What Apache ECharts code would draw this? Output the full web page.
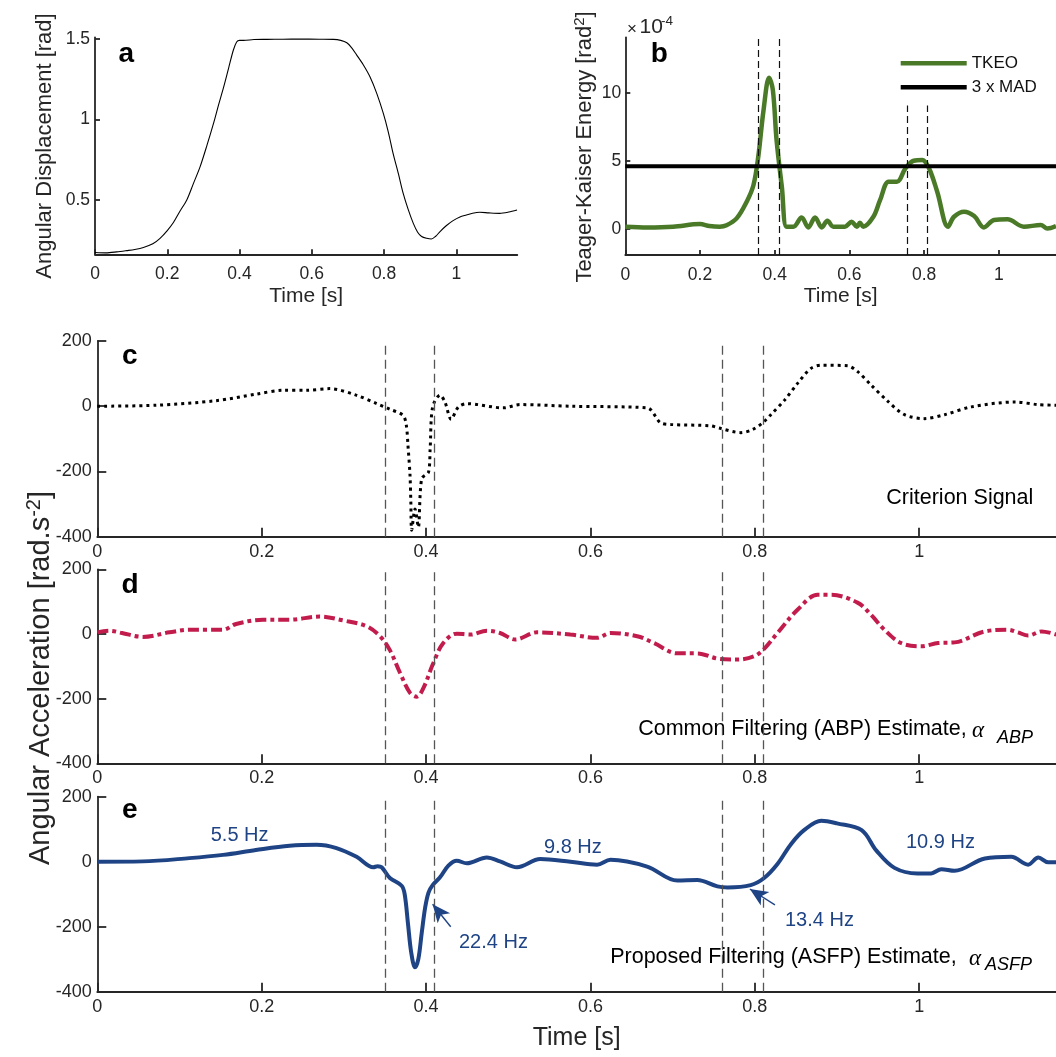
<!DOCTYPE html>
<html><head><meta charset="utf-8">
<script src="https://cdn.jsdelivr.net/npm/echarts/dist/echarts.min.js"></script>
<style>html,body{margin:0;padding:0;background:#fff;}#chart{width:1056px;height:1057px;}</style>
</head><body><div id="chart"></div>
<script>
// ---------- data (time [s], value) ----------
const displacement = [[0,0.174],[0.03,0.172],[0.06,0.178],[0.088,0.186],[0.11,0.193],[0.134,0.205],[0.16,0.228],[0.18,0.262],[0.2,0.31],[0.217,0.36],[0.235,0.43],[0.254,0.5],[0.272,0.6],[0.291,0.707],[0.31,0.84],[0.328,0.975],[0.342,1.09],[0.356,1.2],[0.37,1.32],[0.383,1.43],[0.392,1.48],[0.4,1.49],[0.411,1.49],[0.44,1.495],[0.475,1.496],[0.52,1.497],[0.567,1.498],[0.62,1.497],[0.66,1.496],[0.68,1.49],[0.697,1.475],[0.71,1.445],[0.724,1.40],[0.742,1.34],[0.761,1.264],[0.78,1.16],[0.798,1.037],[0.812,0.92],[0.825,0.789],[0.84,0.66],[0.853,0.541],[0.867,0.44],[0.881,0.355],[0.893,0.30],[0.904,0.273],[0.918,0.262],[0.931,0.258],[0.943,0.275],[0.955,0.304],[0.972,0.34],[0.991,0.372],[1.01,0.395],[1.028,0.407],[1.045,0.418],[1.065,0.424],[1.09,0.42],[1.12,0.417],[1.145,0.425],[1.168,0.438]];
// Teager-Kaiser energy in units of 1e-4 rad^2
const tkeo = [[0,0.15],[0.06,0.1],[0.128,0.15],[0.2,0.34],[0.225,0.2],[0.253,0.15],[0.271,0.25],[0.298,0.76],[0.325,1.99],[0.343,3.2],[0.356,5.3],[0.37,8.7],[0.385,11.1],[0.395,10.2],[0.405,6.5],[0.419,3.1],[0.432,0.15],[0.45,0.15],[0.472,0.83],[0.49,0.1],[0.508,0.83],[0.526,0.1],[0.541,0.59],[0.557,0.15],[0.588,0.15],[0.606,0.51],[0.62,0.15],[0.628,0.44],[0.637,0.15],[0.664,0.88],[0.682,2.1],[0.705,3.46],[0.727,3.46],[0.75,4.44],[0.772,5.0],[0.795,5.05],[0.813,4.44],[0.835,2.72],[0.864,0.15],[0.88,0.88],[0.907,1.25],[0.934,0.93],[0.96,0.1],[0.987,0.64],[1.023,0.69],[1.067,0.15],[1.112,0.27],[1.13,0.02],[1.153,0.2]];
const madThreshold = 4.6;
const criterion = [[0,0],[0.0716,3],[0.1447,17],[0.193,37],[0.226,49],[0.2545,49],[0.283,54],[0.315,34],[0.34,8],[0.356,-9],[0.372,-28],[0.376,-58],[0.378,-120],[0.3805,-212],[0.3815,-294],[0.3825,-380],[0.3866,-315],[0.3906,-371],[0.3947,-222],[0.403,-202],[0.405,-130],[0.408,-2],[0.417,34],[0.423,13],[0.4305,-40],[0.4394,-2],[0.4496,8],[0.494,-5],[0.5146,5],[0.5756,0],[0.669,-5],[0.685,-50],[0.698,-56],[0.746,-60],[0.7566,-67],[0.783,-81],[0.797,-72],[0.81,-50],[0.8195,-26],[0.836,18],[0.852,70],[0.8683,116],[0.881,126],[0.913,124],[0.9252,106],[0.9415,65],[0.962,15],[0.9821,-26],[1.0065,-38],[1.031,-26],[1.0634,-2],[1.1163,13],[1.1447,5],[1.167,3]];
const abpEstimate = [[0,5],[0.0146,10],[0.03,3],[0.0553,-9],[0.0878,5],[0.112,13],[0.1325,13],[0.153,13],[0.169,31],[0.2016,44],[0.234,44],[0.2707,54],[0.299,42],[0.3276,24],[0.344,-7],[0.356,-50],[0.3683,-120],[0.3805,-182],[0.3886,-194],[0.397,-166],[0.409,-89],[0.421,-28],[0.4374,1],[0.4537,-2],[0.474,10],[0.49,3],[0.5085,-17],[0.535,5],[0.5756,-2],[0.608,-12],[0.6244,3],[0.657,-7],[0.6772,-28],[0.7057,-60],[0.73,-60],[0.7566,-77],[0.779,-79],[0.7992,-69],[0.8114,-46],[0.8276,3],[0.852,75],[0.8764,121],[0.8927,121],[0.925,97],[0.9415,59],[0.9577,13],[0.978,-28],[1.0024,-38],[1.023,-28],[1.0431,-26],[1.08,8],[1.108,13],[1.12,5],[1.1326,-5],[1.149,8],[1.167,-2]];
const asfpEstimate = [[0,0],[0.0553,1],[0.112,11],[0.153,21],[0.193,36],[0.234,49],[0.2667,52],[0.291,42],[0.3155,15],[0.3358,-17],[0.341,-14],[0.346,-17],[0.356,-50],[0.3703,-74],[0.374,-100],[0.378,-190],[0.382,-280],[0.3866,-325],[0.3906,-300],[0.3947,-220],[0.399,-140],[0.403,-95],[0.408,-72],[0.417,-48],[0.4272,-12],[0.4374,3],[0.4496,-5],[0.474,13],[0.49,1],[0.5106,-17],[0.539,8],[0.5756,0],[0.608,-9],[0.6244,6],[0.669,-15],[0.7057,-58],[0.73,-56],[0.7545,-76],[0.767,-79],[0.795,-72],[0.8114,-50],[0.8276,-7],[0.844,54],[0.86,97],[0.881,126],[0.9,118],[0.93,97],[0.948,34],[0.9699,-19],[0.998,-36],[1.0146,-36],[1.027,-23],[1.043,-28],[1.08,10],[1.112,15],[1.1326,-9],[1.145,13],[1.157,-2],[1.167,-2]];
const onsetsB = [0.355, 0.411, 0.756, 0.809];
const onsets = [0.355, 0.41, 0.755, 0.808];
const xTicks = [0, 0.2, 0.4, 0.6, 0.8, 1];
const dispTicks = [0.5, 1, 1.5];
const tkeoTicks = [0, 5, 10];
// arrows in panel e: [tail, tip]
const arrow224 = [[0.430, -200], [0.408, -131]];
const arrow134 = [[0.8245, -133], [0.794, -84]];

// ---------- styles ----------
const FONT = 'Liberation Sans, Arial, sans-serif';
const INK = '#262626';
const GREEN = '#4A7A28', CRIMSON = '#C21C4D', NAVY = '#1F4485';
const X_MAX_A = 1.1688, X_MAX_B = 1.153, X_MAX_C = 1.1665;

function xAxis(gi, max, tickLen, fs, margin, name, nameGap, nameSize) {
  return {
    type: 'value', gridIndex: gi, min: 0, max: max,
    axisLine: { onZero: false, lineStyle: { color: INK, width: 1.8 } },
    axisTick: { inside: true, length: tickLen, customValues: xTicks, lineStyle: { color: INK, width: 1.8 } },
    axisLabel: { customValues: xTicks, color: INK, fontSize: fs, fontFamily: FONT, margin: margin },
    splitLine: { show: false },
    name: name || '', nameLocation: 'middle', nameGap: nameGap || 0,
    nameTextStyle: { color: INK, fontSize: nameSize || 20, fontFamily: FONT }
  };
}
function yAxis(gi, min, max, ticks, tickLen, fs, margin) {
  const ax = {
    type: 'value', gridIndex: gi, min: min, max: max,
    axisLine: { show: true, onZero: false, lineStyle: { color: INK, width: 1.8 } },
    axisTick: { show: true, inside: true, length: tickLen, lineStyle: { color: INK, width: 1.8 } },
    axisLabel: { color: INK, fontSize: fs, fontFamily: FONT, margin: margin },
    splitLine: { show: false }
  };
  if (ticks) { ax.axisTick.customValues = ticks; ax.axisLabel.customValues = ticks; }
  else { ax.interval = 200; }
  return ax;
}
const vDash = { color: '#555', width: 1.3, type: [9, 5] };
const onsetMark = (extra) => ({
  silent: true, symbol: ['none', 'none'], label: { show: false }, animation: false,
  lineStyle: vDash, emphasis: { disabled: true },
  data: onsets.map(x => ({ xAxis: x })).concat(extra || [])
});
const arrowItem = (a) => [
  { coord: a[0], symbol: 'none', lineStyle: { color: NAVY, width: 1.4, type: 'solid' } },
  { coord: a[1], symbol: 'arrow', symbolSize: [12, 18], itemStyle: { color: NAVY } }
];

const T = (text, x, y, opt) => ({ type: 'text', x: x, y: y, silent: true, rotation: (opt && opt.rotation) || 0,
  style: Object.assign({ text: text, fill: '#000', fontSize: 20, fontFamily: FONT, align: 'left', verticalAlign: 'middle' }, opt && opt.style) });

const chart = echarts.init(document.getElementById('chart'));
chart.setOption({
  animation: false,
  backgroundColor: '#fff',
  grid: [
    { left: 95, top: 37.3, width: 422.3, height: 217 },
    { left: 625.3, top: 37.3, width: 430.7, height: 217.7 },
    { left: 97.3, top: 341, width: 958.7, height: 195.7 },
    { left: 97.3, top: 569.3, width: 958.7, height: 194 },
    { left: 97.3, top: 796.7, width: 958.7, height: 195 }
  ],
  xAxis: [
    xAxis(0, X_MAX_A, 5, 17.5, 11, 'Time [s]', 31, 21),
    xAxis(1, X_MAX_B, 5, 17.5, 11, 'Time [s]', 31, 21),
    xAxis(2, X_MAX_C, 9, 18, 6),
    xAxis(3, X_MAX_C, 9, 18, 6),
    xAxis(4, X_MAX_C, 9, 18, 6, 'Time [s]', 34, 25)
  ],
  yAxis: [
    yAxis(0, 0.163, 1.509, dispTicks, 5, 17.5, 5),
    yAxis(1, -1.93, 14.07, tkeoTicks, 5, 17.5, 4),
    yAxis(2, -400, 200, null, 9, 18, 5.6),
    yAxis(3, -400, 200, null, 9, 18, 5.6),
    yAxis(4, -400, 200, null, 9, 18, 5.6)
  ],
  legend: {
    data: [{ name: 'TKEO', icon: 'rect' }, { name: '3 x MAD', icon: 'rect' }],
    orient: 'vertical', left: 900.7, top: 53.3, padding: 0,
    itemWidth: 66, itemHeight: 4.5, itemGap: 4, selectedMode: false,
    textStyle: { color: '#111', fontSize: 17, lineHeight: 20, fontFamily: FONT }
  },
  series: [
    { type: 'line', xAxisIndex: 0, yAxisIndex: 0, data: displacement, symbol: 'none', smooth: 0.3,
      lineStyle: { color: '#000', width: 1.1 }, silent: true },
    { type: 'line', name: 'TKEO', xAxisIndex: 1, yAxisIndex: 1, data: tkeo, symbol: 'none', smooth: 0.35,
      lineStyle: { color: GREEN, width: 4.5 }, itemStyle: { color: GREEN }, silent: true,
      markLine: { silent: true, symbol: ['none', 'none'], label: { show: false },
        lineStyle: { color: '#111', width: 1.2, type: [7, 4] },
        data: [
          [{ coord: [onsetsB[0], -1.93] }, { coord: [onsetsB[0], 14.07] }],
          [{ coord: [onsetsB[1], -1.93] }, { coord: [onsetsB[1], 14.07] }],
          [{ coord: [onsetsB[2], -1.93] }, { coord: [onsetsB[2], 9.05] }],
          [{ coord: [onsetsB[3], -1.93] }, { coord: [onsetsB[3], 9.05] }]
        ] } },
    { type: 'line', name: '3 x MAD', xAxisIndex: 1, yAxisIndex: 1, data: [[0, madThreshold], [X_MAX_B, madThreshold]],
      symbol: 'none', lineStyle: { color: '#000', width: 4 }, itemStyle: { color: '#000' }, silent: true, z: 3 },
    { type: 'line', xAxisIndex: 2, yAxisIndex: 2, data: criterion, symbol: 'none', smooth: 0.3,
      lineStyle: { color: '#000', width: 3, type: [3, 4], cap: 'butt' }, silent: true, markLine: onsetMark() },
    { type: 'line', xAxisIndex: 3, yAxisIndex: 3, data: abpEstimate, symbol: 'none', smooth: 0.35,
      lineStyle: { color: CRIMSON, width: 4, type: [11, 4, 4, 4], cap: 'butt' }, silent: true, markLine: onsetMark() },
    { type: 'line', xAxisIndex: 4, yAxisIndex: 4, data: asfpEstimate, symbol: 'none', smooth: 0.35,
      lineStyle: { color: NAVY, width: 4 }, silent: true,
      markLine: onsetMark([arrowItem(arrow224), arrowItem(arrow134)]) }
  ],
  graphic: [
    // panel letters
    T('a', 118.5, 54, { style: { fontSize: 28, fontWeight: 'bold' } }),
    T('b', 650.7, 54, { style: { fontSize: 28, fontWeight: 'bold' } }),
    T('c', 122, 356.3, { style: { fontSize: 28, fontWeight: 'bold' } }),
    T('d', 121.5, 585, { style: { fontSize: 28, fontWeight: 'bold' } }),
    T('e', 122, 810.6, { style: { fontSize: 28, fontWeight: 'bold' } }),
    // y titles
    T('Angular Displacement [rad]', 45, 146, { rotation: Math.PI / 2, style: { fontSize: 22, align: 'center', fill: INK } }),
    T('{m|Teager-Kaiser Energy [rad}{s|2}{m|]}', 585, 147, { rotation: Math.PI / 2,
      style: { align: 'center', fill: INK, rich: { m: { fontSize: 22, lineHeight: 26, fontFamily: FONT, fill: INK },
        s: { fontSize: 15, lineHeight: 16, verticalAlign: 'top', padding: [0, 0, 10, 0], fontFamily: FONT, fill: INK } } } }),
    T('{m|Angular Acceleration [rad.s}{s|-2}{m|]}', 41, 678, { rotation: Math.PI / 2,
      style: { align: 'center', fill: INK, rich: { m: { fontSize: 29, lineHeight: 34, fontFamily: FONT, fill: INK },
        s: { fontSize: 20, lineHeight: 22, verticalAlign: 'top', padding: [0, 0, 12, 0], fontFamily: FONT, fill: INK } } } }),
    // x10^-4
    T('\u00d7', 627, 29, { style: { fontSize: 17, fill: INK } }),
    T('10', 639.5, 26.8, { style: { fontSize: 21, fill: INK } }),
    T('-4', 661, 21, { style: { fontSize: 13.5, fill: INK } }),
    // annotations
    T('Criterion Signal', 1033.3, 498.3, { style: { fontSize: 21.5, align: 'right' } }),
    T('Common Filtering (ABP) Estimate,', 966.7, 728.6, { style: { fontSize: 21.5, align: 'right' } }),
    T('\u03b1', 972, 730.5, { style: { fontSize: 23, fontFamily: 'Liberation Serif, serif', fontStyle: 'italic' } }),
    T('ABP', 997, 738.1, { style: { fontSize: 18, fontStyle: 'italic' } }),
    T('Proposed Filtering (ASFP) Estimate,', 956.7, 956.6, { style: { fontSize: 21.5, align: 'right' } }),
    T('\u03b1', 969, 958.5, { style: { fontSize: 23, fontFamily: 'Liberation Serif, serif', fontStyle: 'italic' } }),
    T('ASFP', 985, 965.4, { style: { fontSize: 18, fontStyle: 'italic' } }),
    T('5.5 Hz', 210.7, 835.5, { style: { fontSize: 20, fill: NAVY } }),
    T('9.8 Hz', 544, 847.1, { style: { fontSize: 20, fill: NAVY } }),
    T('10.9 Hz', 906, 842.1, { style: { fontSize: 20, fill: NAVY } }),
    T('22.4 Hz', 459, 942.1, { style: { fontSize: 20, fill: NAVY } }),
    T('13.4 Hz', 785, 920.5, { style: { fontSize: 20, fill: NAVY } })
  ]
});
</script></body></html>
